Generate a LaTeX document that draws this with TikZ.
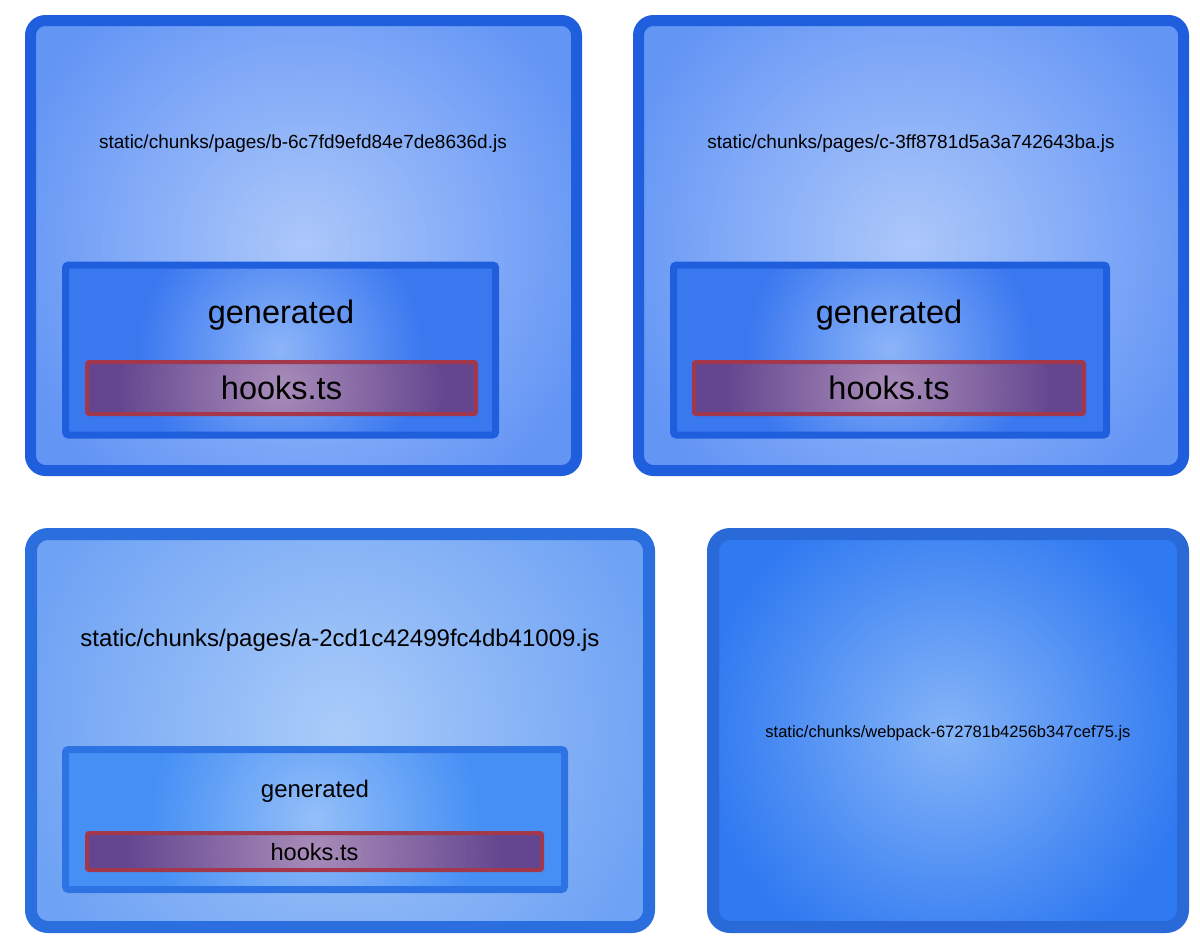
\documentclass[tikz,border=0pt]{standalone}
\usepackage{fontspec}
\setmainfont{Liberation Sans}
\definecolor{topBorder}{HTML}{1F5EDD}
\definecolor{topIn}{HTML}{ADC8FA}
\definecolor{topOut}{HTML}{6395F5}
\definecolor{genIn}{HTML}{8DB5F8}
\definecolor{genOut}{HTML}{3A78F0}
\definecolor{hkBorder}{HTML}{A3374C}
\definecolor{hkIn}{HTML}{A98DB9}
\definecolor{hkOut}{HTML}{644690}
\definecolor{blBorder}{HTML}{2A6FDD}
\definecolor{blIn}{HTML}{AACCF9}
\definecolor{blOut}{HTML}{6EA2F4}
\definecolor{blgBorder}{HTML}{2E73E3}
\definecolor{blgIn}{HTML}{95BFF9}
\definecolor{blgOut}{HTML}{4690F5}
\definecolor{brBorder}{HTML}{2A6AD8}
\definecolor{brIn}{HTML}{86B5F8}
\definecolor{brOut}{HTML}{2F79F1}
\tikzset{
  gshade/.style n args={3}{fill=#2, path picture={
    \foreach \i in {0,...,59}{
      \pgfmathtruncatemacro\pp{round(100*\i/60)}
      \pgfmathsetmacro\rr{#3*(1-\i/60)}
      \fill[#1!\pp!#2] (path picture bounding box.center) circle (\rr pt);
    }}},
  chunkbox/.style={rectangle, rounded corners=15pt, inner sep=0pt, outer sep=0pt},
  genbox/.style={rectangle, rounded corners=3pt, inner sep=0pt, outer sep=0pt, line width=7pt},
  hookbox/.style={rectangle, rounded corners=2pt, inner sep=0pt, outer sep=0pt, draw=hkBorder, line width=4pt},
  lbl/.style={inner sep=0pt, text=black},
}
\begin{document}
\begin{tikzpicture}[x=1pt,y=-1pt]
\useasboundingbox[fill=white] (0,0) rectangle (1200,951);
% top-left
\node[chunkbox, draw=topBorder, line width=11pt, gshade={topIn}{topOut}{310}, minimum width=546pt, minimum height=450pt] (b) at (303.5,245.5) {};
\node[lbl, font=\fontsize{19}{22}\selectfont] (bt) at (303,143.5) {static/chunks/pages/b-6c7fd9efd84e7de8636d.js};
\node[genbox, draw=topBorder, gshade={genIn}{genOut}{145}, minimum width=430pt, minimum height=170pt] (bg) at (280.6,350) {};
\node[lbl, font=\fontsize{32.5}{38}\selectfont] (bgt) at (281,315) {generated};
\node[hookbox, gshade={hkIn}{hkOut}{165}, minimum width=389pt, minimum height=52pt] (bh) at (281.5,388) {};
\node[lbl, font=\fontsize{32.5}{38}\selectfont] (bht) at (281.5,388) {hooks.ts};
% top-right
\node[chunkbox, draw=topBorder, line width=11pt, gshade={topIn}{topOut}{310}, minimum width=545pt, minimum height=450pt] (c) at (911,245.5) {};
\node[lbl, font=\fontsize{19}{22}\selectfont] (ct) at (911,143.5) {static/chunks/pages/c-3ff8781d5a3a742643ba.js};
\node[genbox, draw=topBorder, gshade={genIn}{genOut}{145}, minimum width=433pt, minimum height=170pt] (cg) at (890,350) {};
\node[lbl, font=\fontsize{32.5}{38}\selectfont] (cgt) at (889,315) {generated};
\node[hookbox, gshade={hkIn}{hkOut}{165}, minimum width=390pt, minimum height=52pt] (ch) at (889,388) {};
\node[lbl, font=\fontsize{32.5}{38}\selectfont] (cht) at (889,388) {hooks.ts};
% bottom-left
\node[chunkbox, rounded corners=17pt, draw=blBorder, line width=12pt, gshade={blIn}{blOut}{330}, minimum width=618pt, minimum height=393pt] (a) at (340,730.5) {};
\node[lbl, font=\fontsize{24}{28}\selectfont] (at) at (340,640.5) {static/chunks/pages/a-2cd1c42499fc4db41009.js};
\node[genbox, draw=blgBorder, gshade={blgIn}{blgOut}{165}, minimum width=499pt, minimum height=140pt] (ag) at (315,819.5) {};
\node[lbl, font=\fontsize{24}{28}\selectfont] (agt) at (315,791.5) {generated};
\node[hookbox, gshade={hkIn}{hkOut}{190}, minimum width=455pt, minimum height=37pt] (ah) at (314.5,851.5) {};
\node[lbl, font=\fontsize{23.6}{28}\selectfont] (aht) at (314.5,852.5) {hooks.ts};
% bottom-right
\node[chunkbox, rounded corners=17pt, draw=brBorder, line width=12pt, gshade={brIn}{brOut}{250}, minimum width=470pt, minimum height=393pt] (w) at (948,730.5) {};
\node[lbl, font=\fontsize{16.5}{20}\selectfont] (wt) at (948,733) {static/chunks/webpack-672781b4256b347cef75.js};
\end{tikzpicture}
\end{document}
